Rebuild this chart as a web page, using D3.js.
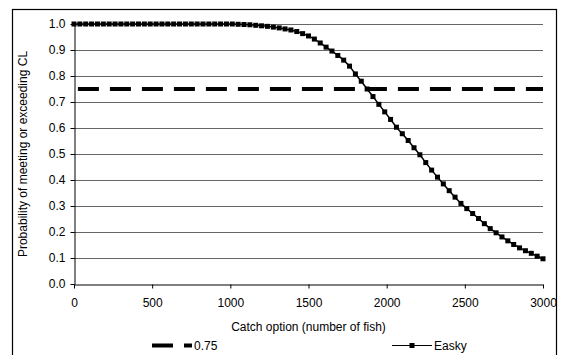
<!DOCTYPE html>
<html>
<head>
<meta charset="utf-8">
<script src="https://cdn.jsdelivr.net/npm/d3@7/dist/d3.min.js"></script>
<style>
  html, body { margin: 0; padding: 0; background: #fff; }
  svg { display: block; font-family: "Liberation Sans", Arial, sans-serif; }
</style>
</head>
<body>
<svg id="chart" width="561" height="355"></svg>
<script>
// ---- data ----
const catchOptions = d3.range(0, 3000.001, 37.5);
const easky = [
  1.000, 1.000, 1.000, 1.000, 1.000, 1.000, 1.000, 1.000, 1.000, 1.000,
  1.000, 1.000, 1.000, 1.000, 1.000, 1.000, 1.000, 1.000, 1.000, 1.000,
  1.000, 1.000, 1.000, 1.000, 1.000, 1.000, 1.000,
  1.000, 0.999, 0.998, 0.997, 0.995, 0.993, 0.991, 0.988, 0.985, 0.981,
  0.977, 0.971, 0.963, 0.954, 0.942, 0.927, 0.911, 0.896, 0.879, 0.861,
  0.838, 0.808, 0.780, 0.750, 0.721, 0.691, 0.662, 0.633, 0.603, 0.578,
  0.552, 0.524,
  0.497, 0.467, 0.438, 0.411, 0.385, 0.359, 0.334, 0.310, 0.290, 0.271,
  0.252, 0.232, 0.213, 0.197, 0.181, 0.166, 0.152, 0.139, 0.128, 0.118,
  0.107, 0.097
];
const thresholdValue = 0.75;
const yTicks = [0, 0.1, 0.2, 0.3, 0.4, 0.5, 0.6, 0.7, 0.8, 0.9, 1.0];
const xTicks = [0, 500, 1000, 1500, 2000, 2500, 3000];
const seriesNames = ["0.75", "Easky"];
const xTitle = "Catch option (number of fish)";
const yTitle = "Probability of meeting or exceeding CL";

// ---- layout ----
const svg = d3.select("#chart");
const L = 74, R = 543, T = 24, B = 284;
const x = d3.scaleLinear().domain([0, 3000]).range([L, R]);
const y = d3.scaleLinear().domain([0, 1]).range([B, T]);

// outer frame
svg.append("rect").attr("x", 12.5).attr("y", 9.5).attr("width", 544).attr("height", 370)
  .attr("fill", "none").attr("stroke", "#000").attr("stroke-width", 1.2);

// gridlines
svg.append("g").selectAll("line").data(yTicks.filter(d => d > 0)).join("line")
  .attr("x1", L).attr("x2", R)
  .attr("y1", d => Math.round(y(d)) + 0.5).attr("y2", d => Math.round(y(d)) + 0.5)
  .attr("stroke", "#666").attr("stroke-width", 1);

// y axis
const yAxis = svg.append("g").attr("transform", `translate(${L + 0.5},0)`)
  .call(d3.axisLeft(y).tickValues(yTicks).tickFormat(d3.format(".1f")).tickSize(4).tickSizeOuter(0));
yAxis.select(".domain").attr("stroke", "#000");
yAxis.selectAll(".tick line").attr("stroke", "#000");
yAxis.selectAll(".tick text").attr("x", -9).attr("font-size", 12)
  .attr("font-family", "Liberation Sans, Arial, sans-serif").attr("fill", "#000");

// x axis
const xAxis = svg.append("g").attr("transform", `translate(0,${B + 0.5})`)
  .call(d3.axisBottom(x).tickValues(xTicks).tickFormat(d3.format("d")).tickSize(4).tickSizeOuter(0));
xAxis.select(".domain").attr("stroke", "#000");
xAxis.selectAll(".tick line").attr("stroke", "#000");
xAxis.selectAll(".tick text").attr("y", 14).attr("font-size", 12)
  .attr("font-family", "Liberation Sans, Arial, sans-serif").attr("fill", "#000");

// axis titles
svg.append("text").attr("x", (L + R) / 2).attr("y", 331).attr("text-anchor", "middle")
  .attr("font-size", 12).text(xTitle);
svg.append("text").attr("transform", `translate(27,${(T + B) / 2}) rotate(-90)`)
  .attr("text-anchor", "middle").attr("font-size", 12).text(yTitle);

// threshold dashed line
svg.append("line").attr("x1", x(25)).attr("x2", R)
  .attr("y1", y(thresholdValue)).attr("y2", y(thresholdValue))
  .attr("stroke", "#000").attr("stroke-width", 4).attr("stroke-dasharray", "21,11");

// Easky series
const pts = catchOptions.map((c, i) => [c, easky[i]]);
svg.append("path").datum(pts)
  .attr("d", d3.line().x(d => x(d[0])).y(d => y(d[1])))
  .attr("fill", "none").attr("stroke", "#000").attr("stroke-width", 1.5);
svg.append("g").selectAll("rect").data(pts).join("rect")
  .attr("x", d => x(d[0]) - 2.5).attr("y", d => y(d[1]) - 2.5)
  .attr("width", 5).attr("height", 5).attr("fill", "#000");

// legend
const ly = 345.5;
svg.append("line").attr("x1", 152).attr("x2", 192).attr("y1", ly).attr("y2", ly)
  .attr("stroke", "#000").attr("stroke-width", 4).attr("stroke-dasharray", "21,11");
svg.append("text").attr("x", 194).attr("y", ly + 4.5).attr("font-size", 12).text(seriesNames[0]);

svg.append("line").attr("x1", 392).attr("x2", 432).attr("y1", ly).attr("y2", ly)
  .attr("stroke", "#000").attr("stroke-width", 1);
svg.append("rect").attr("x", 409.5).attr("y", ly - 2.5).attr("width", 5).attr("height", 5).attr("fill", "#000");
svg.append("text").attr("x", 434).attr("y", ly + 4.5).attr("font-size", 12).text(seriesNames[1]);
</script>
</body>
</html>
